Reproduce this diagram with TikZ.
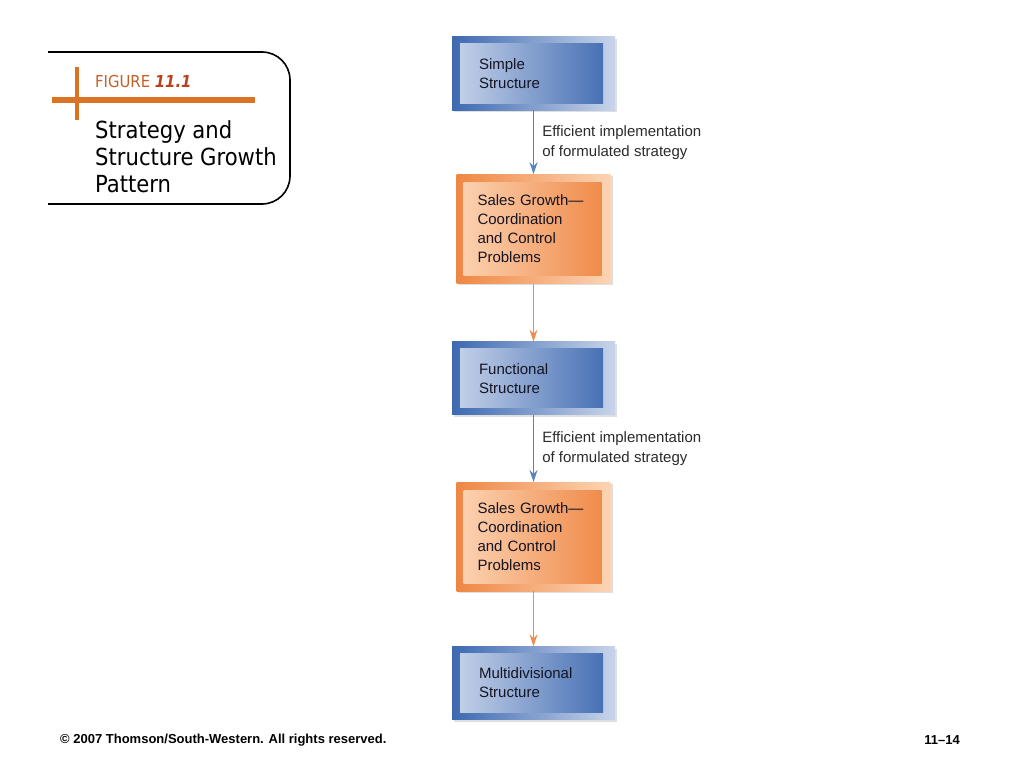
\documentclass[tikz,border=0pt]{standalone}
\usepackage{fontspec}
\setmainfont{Liberation Sans}
\newfontfamily\titlefont{DejaVu Sans Condensed}
\usetikzlibrary{positioning,shadows,arrows.meta}

\definecolor{bluedark}{HTML}{3D69B1}
\definecolor{bluepale}{HTML}{C8D4EA}
\definecolor{orangedark}{HTML}{EF8744}
\definecolor{orangepale}{HTML}{FCD4B4}
\definecolor{boxtext}{HTML}{141422}
\definecolor{labeltext}{HTML}{2A2A2A}
\definecolor{bluearrowc}{HTML}{5A81C2}
\definecolor{orangearrowc}{HTML}{EE8C4B}
\definecolor{figorange}{HTML}{DA7324}
\definecolor{figbrown}{HTML}{C2602A}
\definecolor{figred}{HTML}{B9421C}

\newcommand{\boxfont}{\fontsize{15}{19}\selectfont}

\begin{document}
\begin{tikzpicture}[x=1pt,y=-1pt,
  every shadow/.style={shadow xshift=2pt,shadow yshift=-2pt,opacity=0.25},
  bluebox/.style={rectangle,minimum width=163pt,minimum height=73pt,
    text width=109pt,inner xsep=27pt,align=left,text=boxtext,font=\boxfont,
    left color=bluedark,right color=bluepale,drop shadow,
    path picture={\shade[left color=bluepale,right color=bluedark]
      ([shift={(8pt,-7pt)}]path picture bounding box.north west) rectangle
      ([shift={(-12pt,7pt)}]path picture bounding box.south east);}},
  orangebox/.style={rectangle,minimum width=154pt,minimum height=109pt,
    text width=112pt,inner xsep=21pt,align=left,text=boxtext,font=\boxfont,
    left color=orangedark,right color=orangepale,drop shadow,
    path picture={\shade[left color=orangepale,right color=orangedark]
      ([shift={(7pt,-8pt)}]path picture bounding box.north west) rectangle
      ([shift={(-9pt,8pt)}]path picture bounding box.south east);}},
  bluearrow/.style={draw=bluearrowc,line width=1.6pt,
    -{Stealth[length=12pt,width=8pt]}},
  orangearrow/.style={draw=orangearrowc,line width=1.6pt,
    -{Stealth[length=12pt,width=8pt]}},
  flowlabel/.style={anchor=west,xshift=8pt,align=left,text=labeltext,
    font=\fontsize{15}{20}\selectfont,inner sep=0pt}]
\useasboundingbox (0,0) rectangle (1024,768);

% title panel
\draw[line width=1.6pt,rounded corners=28pt] (48,52) -- (290,52) -- (290,204) -- (48,204);
\fill[figorange] (52,96.5) rectangle (255,102.5);
\fill[figorange] (75,67) rectangle (79,120);
\node (FigNum) [anchor=base west,inner sep=0pt,text=figbrown,
  font=\titlefont\fontsize{16.5}{16.5}\selectfont] at (95,87)
  {FIGURE \textcolor{figred}{\bfseries\itshape 11.1}};
\node (FigTitle) [anchor=north west,inner sep=0pt,align=left,
  font=\titlefont\fontsize{23.5}{27}\selectfont] at (95,120.5)
  {Strategy and\\Structure Growth\\Pattern};

% growth pattern
\node (Simple) [bluebox] at (533.5,73.5) {Simple\\Structure};
\node (Sales1) [orangebox,below=64pt of Simple]
  {Sales Growth---\\Coordination\\and Control\\Problems};
\node (Functional) [bluebox,below=58pt of Sales1] {Functional\\Structure};
\node (Sales2) [orangebox,below=67pt of Functional]
  {Sales Growth---\\Coordination\\and Control\\Problems};
\node (Multi) [bluebox,below=55pt of Sales2] {Multidivisional\\Structure};

\draw[bluearrow] (Simple) -- node (Impl1) [flowlabel]
  {Efficient implementation\\of formulated strategy} (Sales1);
\draw[orangearrow] (Sales1) -- (Functional);
\draw[bluearrow] (Functional) -- node (Impl2) [flowlabel]
  {Efficient implementation\\of formulated strategy} (Sales2);
\draw[orangearrow] (Sales2) -- (Multi);

% footer
\node (Copyright) [anchor=west,inner sep=0pt,font=\fontsize{13}{14}\selectfont\bfseries]
  at (60,740) {\textcopyright{} 2007 Thomson/South-Western. All rights reserved.};
\node (PageNum) [anchor=east,inner sep=0pt,font=\fontsize{13}{14}\selectfont\bfseries]
  at (960,740) {11--14};
\end{tikzpicture}
\end{document}
